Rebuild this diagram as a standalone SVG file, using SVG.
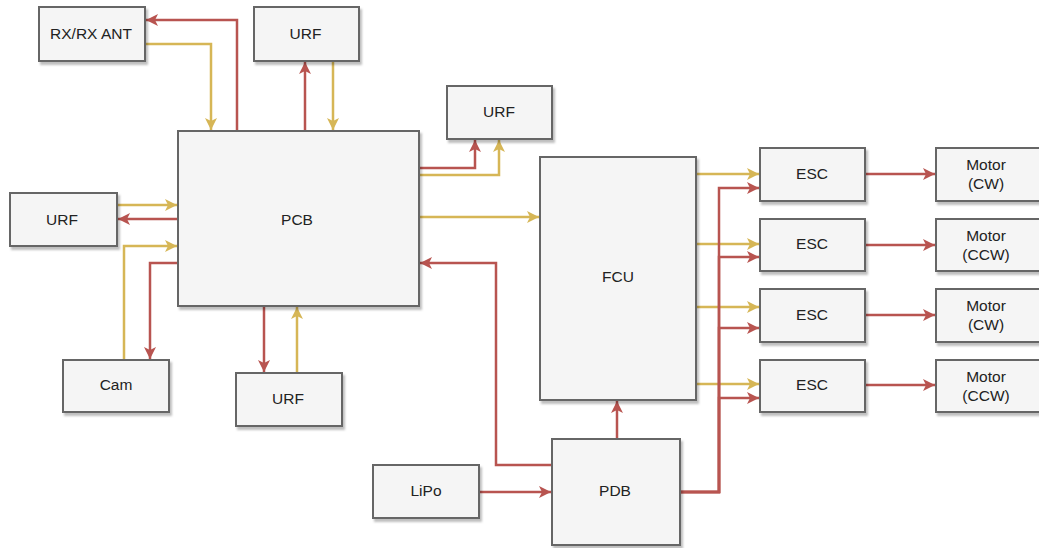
<svg xmlns="http://www.w3.org/2000/svg" width="1039" height="548" viewBox="0 0 1039 548">
<style>
.box{fill:#f5f5f5;stroke:#666666;stroke-width:2;filter:url(#sh)}
.t{font-family:"Liberation Sans",Arial,sans-serif;font-size:15.5px;fill:#222222;text-anchor:middle;dominant-baseline:central}
.r{fill:none;stroke:#b85450;stroke-width:2.5}
.y{fill:none;stroke:#d6b656;stroke-width:2.5}
.r.a{marker-end:url(#ar)}
.y.a{marker-end:url(#ay)}
</style>
<defs>
<filter id="sh" x="-10%" y="-10%" width="130%" height="130%">
<feDropShadow dx="2" dy="3" stdDeviation="1" flood-color="#000" flood-opacity="0.25"/>
</filter>
<marker id="ar" markerUnits="userSpaceOnUse" markerWidth="14" markerHeight="12" viewBox="0 0 14 12" refX="12" refY="6" orient="auto">
<path d="M0,0 L12,6 L0,12 L3,6 Z" fill="#b85450"/>
</marker>
<marker id="ay" markerUnits="userSpaceOnUse" markerWidth="14" markerHeight="12" viewBox="0 0 14 12" refX="12" refY="6" orient="auto">
<path d="M0,0 L12,6 L0,12 L3,6 Z" fill="#d6b656"/>
</marker>
</defs>
<rect width="1039" height="548" fill="#ffffff"/>
<g id="connectors">
<path class="r a" d="M237,131 V20 H146"/>
<path class="y a" d="M145,44 H211 V130"/>
<path class="r a" d="M305,131 V62"/>
<path class="y a" d="M333,61 V130"/>
<path class="r a" d="M419,168 H475 V140"/>
<path class="y a" d="M419,175 H499 V140"/>
<path class="y a" d="M419,217 H539"/>
<path class="y a" d="M117,205 H177"/>
<path class="r a" d="M178,219 H118"/>
<path class="y a" d="M124,360 V246 H177"/>
<path class="r a" d="M178,263 H150 V359"/>
<path class="r a" d="M264,306 V372"/>
<path class="y a" d="M297,373 V307"/>
<path class="y a" d="M696,174 H759"/>
<path class="y a" d="M696,244 H759"/>
<path class="y a" d="M696,307 H759"/>
<path class="y a" d="M696,384 H759"/>
<path class="r a" d="M680,492 H719 V188 H759"/>
<path class="r a" d="M680,492 H719 V257 H759"/>
<path class="r a" d="M680,492 H719 V328 H759"/>
<path class="r a" d="M680,492 H719 V398 H759"/>
<path class="r a" d="M865,174 H935"/>
<path class="r a" d="M865,245 H935"/>
<path class="r a" d="M865,315 H935"/>
<path class="r a" d="M865,385 H935"/>
<path class="r a" d="M479,492 H551"/>
<path class="r a" d="M617,439 V401"/>
<path class="r a" d="M552,465 H496 V263 H420"/>
</g>
<g id="rxant"><rect class="box" x="39" y="7" width="106" height="54"/><text class="t" x="91" y="33">RX/RX ANT</text></g>
<g id="urf-top"><rect class="box" x="254" y="7" width="105" height="54"/><text class="t" x="305.5" y="33">URF</text></g>
<g id="urf-right"><rect class="box" x="447" y="86" width="105" height="53"/><text class="t" x="499" y="111">URF</text></g>
<g id="pcb"><rect class="box" x="178" y="131" width="241" height="175"/><text class="t" x="297" y="219">PCB</text></g>
<g id="urf-left"><rect class="box" x="10" y="193" width="107" height="53"/><text class="t" x="62" y="219">URF</text></g>
<g id="cam"><rect class="box" x="63" y="360" width="106" height="52"/><text class="t" x="116" y="384">Cam</text></g>
<g id="urf-bottom"><rect class="box" x="236" y="373" width="106" height="53"/><text class="t" x="288" y="398">URF</text></g>
<g id="fcu"><rect class="box" x="540" y="157" width="156" height="243"/><text class="t" x="618" y="276">FCU</text></g>
<g id="lipo"><rect class="box" x="373" y="465" width="106" height="53"/><text class="t" x="426" y="490">LiPo</text></g>
<g id="pdb"><rect class="box" x="552" y="439" width="128" height="106"/><text class="t" x="615" y="490">PDB</text></g>
<g id="esc1"><rect class="box" x="760" y="148" width="105" height="53"/><text class="t" x="812" y="173">ESC</text></g>
<g id="esc2"><rect class="box" x="760" y="219" width="105" height="52"/><text class="t" x="812" y="243">ESC</text></g>
<g id="esc3"><rect class="box" x="760" y="289" width="105" height="53"/><text class="t" x="812" y="314">ESC</text></g>
<g id="esc4"><rect class="box" x="760" y="360" width="105" height="52"/><text class="t" x="812" y="384">ESC</text></g>
<g id="motor1"><rect class="box" x="936" y="148" width="106" height="53"/><text class="t" x="986" y="164">Motor</text><text class="t" x="986" y="183">(CW)</text></g>
<g id="motor2"><rect class="box" x="936" y="219" width="106" height="52"/><text class="t" x="986" y="235">Motor</text><text class="t" x="986" y="254">(CCW)</text></g>
<g id="motor3"><rect class="box" x="936" y="289" width="106" height="53"/><text class="t" x="986" y="305">Motor</text><text class="t" x="986" y="324">(CW)</text></g>
<g id="motor4"><rect class="box" x="936" y="360" width="106" height="52"/><text class="t" x="986" y="376">Motor</text><text class="t" x="986" y="395">(CCW)</text></g>
</svg>
